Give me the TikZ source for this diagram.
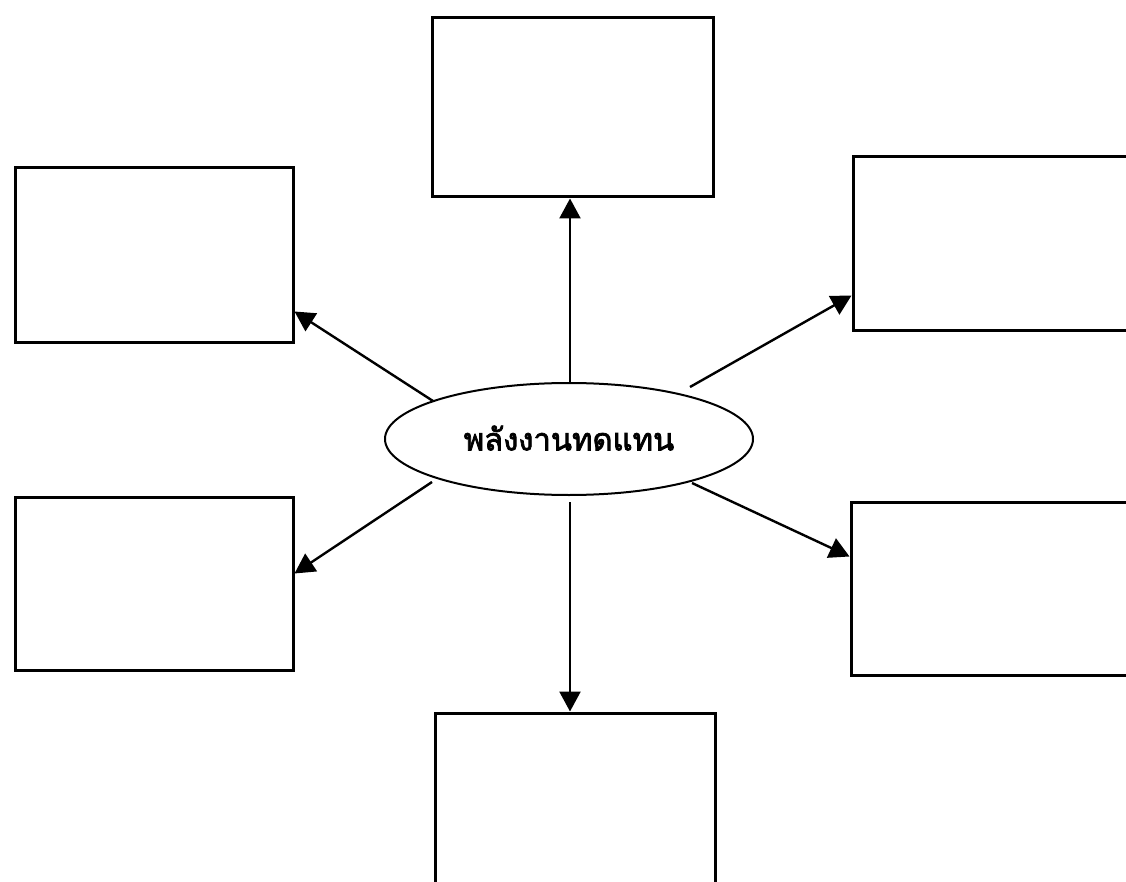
\documentclass[tikz,border=0pt]{standalone}
\usepackage{fontspec}
\newfontfamily\thaifont[Script=Thai,FakeBold=2.5]{Loma}
\usetikzlibrary{arrows.meta,shapes.geometric}
\begin{document}
\begin{tikzpicture}[x=1pt,y=-1pt,
  box/.style={draw=black,line width=3pt,inner sep=0pt},
  hub/.style={draw=black,line width=2pt,ellipse,minimum width=368pt,minimum height=112pt,inner sep=0pt,
    font=\thaifont\fontsize{31}{36}\selectfont},
  link/.style={line width=2.4pt,-{Triangle[length=20pt,width=21pt]}}]
\useasboundingbox (0,0) rectangle (1126,882);
\clip (0,0) rectangle (1126,882);
% outer boxes
\node[box,minimum width=281pt,minimum height=179pt] (top) at (572.5,107.5) {};
\node[box,minimum width=278pt,minimum height=174pt] (tl) at (154,255) {};
\node[box,minimum width=290pt,minimum height=173pt] (tr) at (998,243.5) {};
\node[box,minimum width=278pt,minimum height=173pt] (bl) at (154,583.5) {};
\node[box,minimum width=290pt,minimum height=173pt] (br) at (996,588.5) {};
\node[box,minimum width=280pt,minimum height=190pt] (bot) at (575,808) {};
% central ellipse
\node[hub] (e) at (569,439) {\raisebox{2pt}{พลังงานทดแทน}};
% connector start points around the ellipse
\coordinate (sT) at (570,383);
\coordinate (sB) at (570,502);
\coordinate (sTL) at (433,401);
\coordinate (sTR) at (690,387);
\coordinate (sBL) at (432,482);
\coordinate (sBR) at (692,483);
% connector end points on the boxes
\coordinate (eT) at (top.south -| sT);
\coordinate (eB) at (bot.north -| sB);
\coordinate (eTL) at ([yshift=32pt]tl.south east);
\coordinate (eTR) at ([yshift=36pt]tr.south west);
\coordinate (eBL) at ([yshift=-78pt]bl.north east);
\coordinate (eBR) at ([yshift=-56pt]br.north west);
\draw[link] (sT) -- (eT);
\draw[link] (sB) -- (eB);
\draw[link] (sTL) -- (eTL);
\draw[link] (sTR) -- (eTR);
\draw[link] (sBL) -- (eBL);
\draw[link] (sBR) -- (eBR);
\end{tikzpicture}
\end{document}
